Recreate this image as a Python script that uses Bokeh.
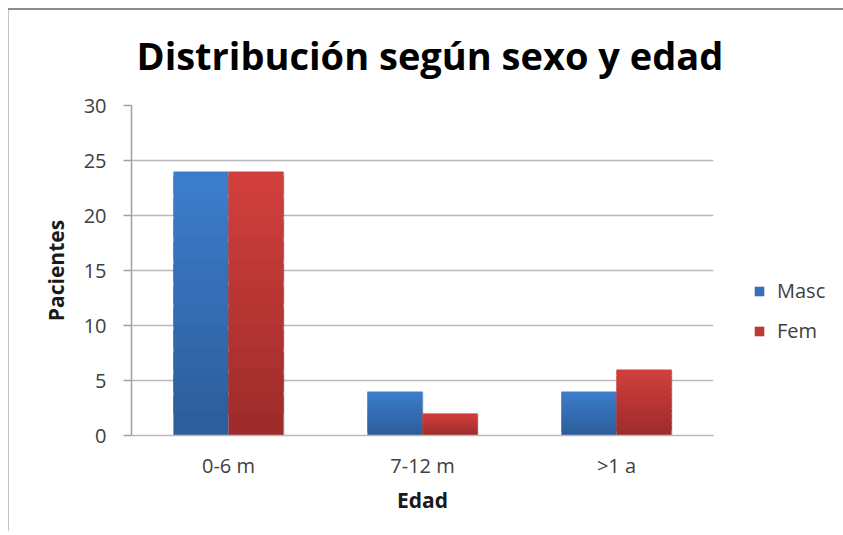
from bokeh.plotting import figure
from bokeh.models import ColumnDataSource, FactorRange, Range1d, Legend, LegendItem, FixedTicker
from bokeh.transform import dodge
from bokeh.embed import file_html
from bokeh.resources import INLINE

# ---- data ----
categories = ["0-6 m", "7-12 m", ">1 a"]
masc = [24, 4, 4]
fem = [24, 2, 6]
series_names = ["Masc", "Fem"]
y_ticks = [0, 5, 10, 15, 20, 25, 30]
title_text = "Distribución según sexo y edad"
x_label = "Edad"
y_label = "Pacientes"

FONT = "Open Sans"

# gradient colours (bottom, top) per series
blue_grad = ((0x2C, 0x5C, 0x98), (0x3C, 0x7E, 0xCC))
red_grad = ((0x9C, 0x2B, 0x2A), (0xD2, 0x40, 0x3D))


def lerp(c1, c2, t):
    return "#%02x%02x%02x" % tuple(int(round(a + (b - a) * t)) for a, b in zip(c1, c2))


p = figure(
    x_range=FactorRange(*categories, range_padding=0),
    y_range=Range1d(0, 30),
    frame_width=582, frame_height=330,
    min_border_left=123, min_border_right=118,
    min_border_top=105, min_border_bottom=96,
    output_backend="svg", toolbar_location=None,
)
p.border_fill_alpha = 0
p.styles = {
    "margin-left": "8px", "margin-top": "0px",
    "background": ("linear-gradient(#8c8c8c, #8c8c8c) 0 8px / 100% 2px no-repeat, "
                   "linear-gradient(#c4c4c4, #c4c4c4) 0 8px / 1px 100% no-repeat, #ffffff"),
}

N = 12
bar_w = 0.284
renderers = []
for values, off, grad, name in [(masc, -bar_w / 2, blue_grad, "Masc"), (fem, bar_w / 2, red_grad, "Fem")]:
    # soft shadow
    p.vbar(x=dodge("x", off + 0.006, range=p.x_range), bottom=-0.12, top="top", width=bar_w,
           fill_color="#000000", fill_alpha=0.13, line_color=None,
           source=ColumnDataSource(dict(x=categories, top=[v - 0.1 for v in values])))
    xs, bots, tops, cols = [], [], [], []
    for cat, v in zip(categories, values):
        for k in range(N):
            xs.append(cat)
            bots.append(v * k / N)
            tops.append(min(v, v * (k + 1.8) / N))
            cols.append(lerp(grad[0], grad[1], (k + 0.5) / N))
    src = ColumnDataSource(dict(x=xs, bottom=bots, top=tops, color=cols))
    r = p.vbar(x=dodge("x", off, range=p.x_range), bottom="bottom", top="top", width=bar_w,
               fill_color="color", line_color=None, source=src)
    renderers.append((name, r))

# title
p.title.text = title_text
p.title.text_font = FONT
p.title.text_font_size = "38px"
p.title.text_font_style = "bold"
p.title.text_line_height = 0.8
p.title.align = "left"
p.title.offset = 5
p.title.standoff = 50
p.title.text_color = "#000000"

# axes
p.outline_line_color = None
p.xgrid.grid_line_color = None
p.ygrid.grid_line_color = "#bababa"
p.ygrid.grid_line_width = 1.5
p.yaxis.ticker = FixedTicker(ticks=y_ticks)
p.yaxis.minor_tick_line_color = None
p.yaxis.major_tick_in = 0
p.yaxis.major_tick_out = 8
p.yaxis.major_tick_line_color = "#a0a0a0"
p.yaxis.major_tick_line_width = 1.5
p.yaxis.axis_line_color = "#a0a0a0"
p.yaxis.axis_line_width = 1.5
p.yaxis.major_label_standoff = 17
p.yaxis.axis_label = y_label
p.yaxis.axis_label_standoff = 11

p.xaxis.major_tick_line_color = None
p.xaxis.axis_line_color = "#bababa"
p.xaxis.axis_line_width = 1.5
p.xaxis.major_label_standoff = 10
p.xaxis.axis_label = x_label
p.xaxis.axis_label_standoff = 4

for ax in (p.xaxis[0], p.yaxis[0]):
    ax.major_label_text_font = FONT
    ax.major_label_text_font_size = "20px"
    ax.major_label_text_color = "#404040"
    ax.axis_label_text_font = FONT
    ax.axis_label_text_font_size = "21px"
    ax.axis_label_text_font_style = "bold"
    ax.axis_label_text_color = "#1a1a1a"

legend = Legend(
    items=[LegendItem(label=n, renderers=[r], index=int(N * 0.6)) for n, r in renderers],
    location=(40, 91),
    border_line_color=None, background_fill_alpha=0,
    padding=0, margin=0, spacing=13,
    glyph_width=12, glyph_height=12, label_standoff=12,
    label_text_font=FONT, label_text_font_size="20px", label_text_color="#404040",
)
p.add_layout(legend, "right")

open("out.html", "w").write(file_html(p, INLINE))
